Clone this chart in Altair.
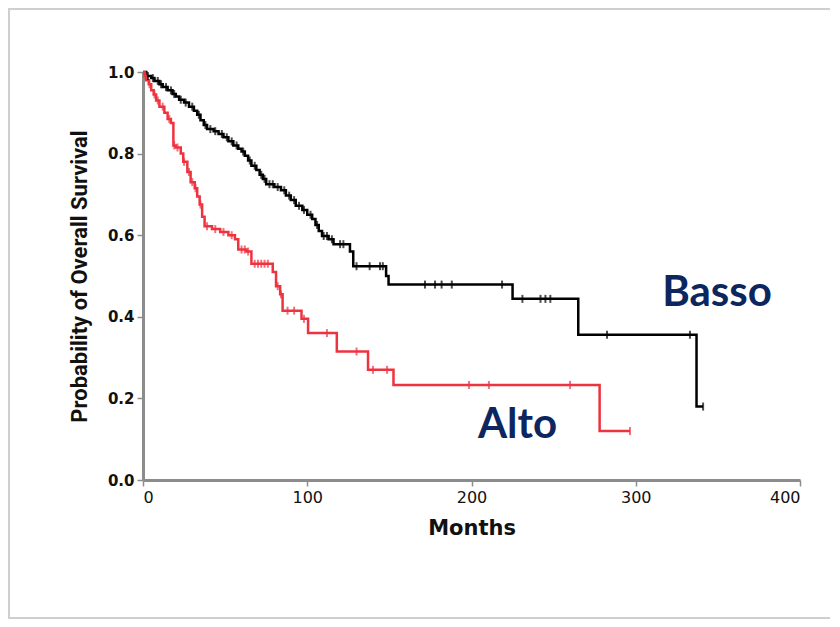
import altair as alt
import pandas as pd

# ---- data ----
basso_t = [0, 2, 5, 7, 10, 12, 15, 18, 20, 22, 25, 28, 31, 33, 35, 37, 39, 43, 46, 49, 52, 55, 58, 60,
           62, 64, 66, 69, 71, 73, 75, 80, 84, 87, 90, 93, 97, 100, 103, 105, 107, 109, 113, 116, 126,
           128, 148, 149.5, 225, 265, 337]
basso_s = [1.0, 0.99, 0.985, 0.978, 0.97, 0.963, 0.955, 0.946, 0.94, 0.932, 0.925, 0.915, 0.905, 0.895,
           0.882, 0.87, 0.86, 0.855, 0.848, 0.84, 0.83, 0.82, 0.812, 0.805, 0.795, 0.783, 0.77, 0.76,
           0.748, 0.738, 0.725, 0.718, 0.71, 0.697, 0.686, 0.672, 0.662, 0.65, 0.64, 0.625, 0.61, 0.598,
           0.59, 0.578, 0.56, 0.524, 0.5, 0.479, 0.444, 0.356, 0.18]
basso_cens = [3, 6, 9, 11, 14, 17, 19, 23, 26, 30, 34, 38, 41, 44, 48, 51, 54, 57, 61, 65, 68, 72, 74, 77,
              79, 82, 86, 89, 92, 95, 98, 102, 106, 110, 112, 115, 120, 122, 130, 138, 144.3, 146, 171.7,
              177.8, 181.8, 188, 218.6, 231, 242, 245, 248, 282.5, 333, 341]

alto_t = [0, 1, 2, 3.5, 5, 6.5, 8, 10, 13, 15, 17, 18.5, 20, 23, 24.5, 27, 29, 31.5, 33, 34.5, 36, 37.5,
          42, 47, 52, 56, 58, 63, 66, 79, 81, 83.5, 85, 96.5, 100.5, 118, 137, 152.5, 278]
alto_s = [1.0, 0.99, 0.98, 0.97, 0.955, 0.945, 0.93, 0.915, 0.9, 0.885, 0.875, 0.82, 0.815, 0.8, 0.78,
          0.755, 0.73, 0.715, 0.695, 0.675, 0.645, 0.622, 0.615, 0.608, 0.6, 0.59, 0.565, 0.56, 0.53,
          0.51, 0.475, 0.455, 0.415, 0.395, 0.36, 0.315, 0.27, 0.233, 0.12]
alto_cens = [1.5, 4, 7, 9, 12, 16, 19, 21, 25, 28, 30, 32, 35, 39, 44, 49, 54, 60, 62, 64, 68, 70, 72, 74,
             76, 82, 84, 88, 92, 98, 112, 130, 140, 148.6, 198.5, 210.6, 260, 296.5]

groups = ["Basso", "Alto"]
colors = ["#000000", "#ee3340"]
label_x = [349.5, 228]
label_y = [0.426, 0.103]


def surv_at(ts, ss, t):
    v = ss[0]
    for ti, si in zip(ts, ss):
        if ti <= t:
            v = si
    return v


line_rows, cens_rows = [], []
for g, ts, ss, cs in [("Basso", basso_t, basso_s, basso_cens), ("Alto", alto_t, alto_s, alto_cens)]:
    for i, (t, s) in enumerate(zip(ts, ss)):
        line_rows.append({"g": g, "t": t, "s": s, "o": i})
    line_rows.append({"g": g, "t": max(cs), "s": ss[-1], "o": len(ts)})
    for c in cs:
        cens_rows.append({"g": g, "t": c, "s": surv_at(ts, ss, c)})

lines_df = pd.DataFrame(line_rows)
cens_df = pd.DataFrame(cens_rows)
labels_df = pd.DataFrame({"g": groups, "x": label_x, "y": label_y})

color = alt.Color("g:N", scale=alt.Scale(domain=groups, range=colors), legend=None)
xs = alt.Scale(domain=[0, 400], nice=False)
ys = alt.Scale(domain=[0, 1], nice=False)

x_axis = alt.Axis(values=[0, 100, 200, 300, 400], title="Months", grid=False,
                  labelFont="DejaVu Sans", labelFontSize=16, labelColor="#111",
                  titleFont="DejaVu Sans", titleFontSize=21, titleFontWeight="bold", titleColor="#111",
                  titlePadding=12, domainColor="#8c8c8c", domainWidth=3, tickColor="#8c8c8c",
                  tickWidth=1.5, tickSize=6, labelPadding=3)
y_axis = alt.Axis(values=[0, 0.2, 0.4, 0.6, 0.8, 1.0], format=".1f", title="Probability of Overall Survival",
                  grid=False, labelFont="DejaVu Sans", labelFontSize=15, labelFontWeight="bold",
                  labelColor="#111",
                  titleFont="Liberation Sans Narrow, Roboto", titleFontSize=22, titleFontWeight="bold",
                  titleColor="#111", titlePadding=16, domainColor="#8c8c8c", domainWidth=3,
                  tickColor="#8c8c8c", tickWidth=1.5, tickSize=6, labelPadding=3)

frame = alt.Chart(alt.Data(values=[{}])).mark_rect(
    fillOpacity=0, stroke="#cfcfcf", strokeWidth=2
).encode(x=alt.value(-134), x2=alt.value(693), y=alt.value(-63), y2=alt.value(546))

lines = alt.Chart(lines_df).mark_line(interpolate="step-after", strokeWidth=2.5).encode(
    x=alt.X("t:Q", scale=xs, axis=x_axis),
    y=alt.Y("s:Q", scale=ys, axis=y_axis),
    color=color, detail="g:N", order="o:Q")

cens = alt.Chart(cens_df).mark_tick(orient="vertical", size=8, thickness=2).encode(
    x=alt.X("t:Q", scale=xs), y=alt.Y("s:Q", scale=ys), color=color)

texts = alt.Chart(labels_df).mark_text(font="Lato", fontSize=42, fontWeight="bold", color="#0c2660",
                                       align="center", baseline="alphabetic").encode(
    x=alt.X("x:Q", scale=xs), y=alt.Y("y:Q", scale=ys), text="g:N")

chart = alt.layer(frame, lines, cens, texts).properties(
    width=657, height=408,
    autosize=alt.AutoSizeParams(type="none"),
    padding={"left": 135, "top": 64, "right": 30, "bottom": 140},
).configure(background="white").configure_view(stroke=None)

chart.save("out.html", embed_options={"renderer": "svg", "actions": False})
